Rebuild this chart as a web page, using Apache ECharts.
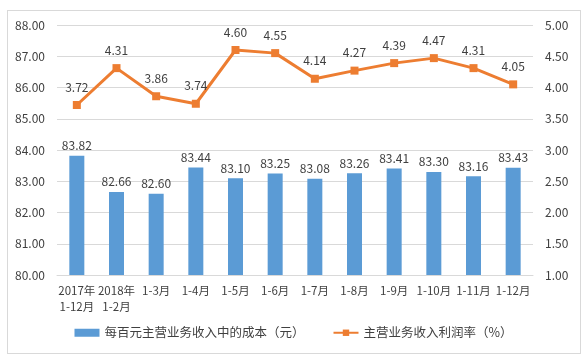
<!DOCTYPE html>
<html><head><meta charset="utf-8">
<script src="https://cdn.jsdelivr.net/npm/echarts@6/dist/echarts.min.js"></script>
<style>
html,body{margin:0;padding:0;background:#fff;}
#frame{position:absolute;left:7px;top:10px;width:572px;height:342px;border:1px solid #d9d9d9;}
#c{position:absolute;left:0;top:0;width:587px;height:358px;}
</style></head>
<body>
<div id="frame"></div>
<div id="c"></div>
<script>
const categories = ['2017年\n1-12月','2018年\n1-2月','1-3月','1-4月','1-5月','1-6月','1-7月','1-8月','1-9月','1-10月','1-11月','1-12月'];
const costValues = [83.82,82.66,82.60,83.44,83.10,83.25,83.08,83.26,83.41,83.30,83.16,83.43];
const profitRate = [3.72,4.31,3.86,3.74,4.60,4.55,4.14,4.27,4.39,4.47,4.31,4.05];
const barName = '每百元主营业务收入中的成本（元）';
const lineName = '主营业务收入利润率（%）';
const font = '"Noto Sans CJK SC", "Noto Sans", sans-serif';
const chart = echarts.init(document.getElementById('c'));
chart.setOption({
  animation:false,
  textStyle:{fontFamily:font},
  grid:{left:57,right:54,top:25,bottom:83},
  legend:{
    bottom:14, left:'center', itemGap:28, itemWidth:25, itemHeight:8,
    textStyle:{fontSize:12.5,color:'#404040',fontFamily:font},
    data:[{name:barName,icon:'rect'},{name:lineName}]
  },
  xAxis:{
    type:'category', data:categories,
    axisTick:{show:false},
    axisLine:{lineStyle:{color:'#d9d9d9'}},
    axisLabel:{color:'#404040',fontSize:11.5,interval:0,lineHeight:16,margin:8,fontFamily:font}
  },
  yAxis:[
    {type:'value',min:80,max:88,interval:1,
     axisLabel:{formatter:v=>v.toFixed(2),color:'#404040',fontSize:12,margin:12},
     splitLine:{lineStyle:{color:'#d9d9d9'}},axisLine:{show:false},axisTick:{show:false}},
    {type:'value',min:1,max:5,interval:0.5,
     axisLabel:{formatter:v=>v.toFixed(2),color:'#404040',fontSize:12,margin:12},
     splitLine:{show:false},axisLine:{show:false},axisTick:{show:false}}
  ],
  series:[
    {name:barName,type:'bar',data:costValues,barWidth:15,
     itemStyle:{color:'#5b9bd5'},
     label:{show:true,position:'top',color:'#404040',fontSize:12,formatter:p=>p.value.toFixed(2),distance:4}},
    {name:lineName,type:'line',yAxisIndex:1,data:profitRate,
     symbol:'rect',symbolSize:8,
     lineStyle:{color:'#ed7d31',width:3},
     itemStyle:{color:'#ed7d31'},
     label:{show:true,position:'top',color:'#404040',fontSize:12,formatter:p=>p.value.toFixed(2),distance:8}}
  ]
});
</script>
</body></html>
